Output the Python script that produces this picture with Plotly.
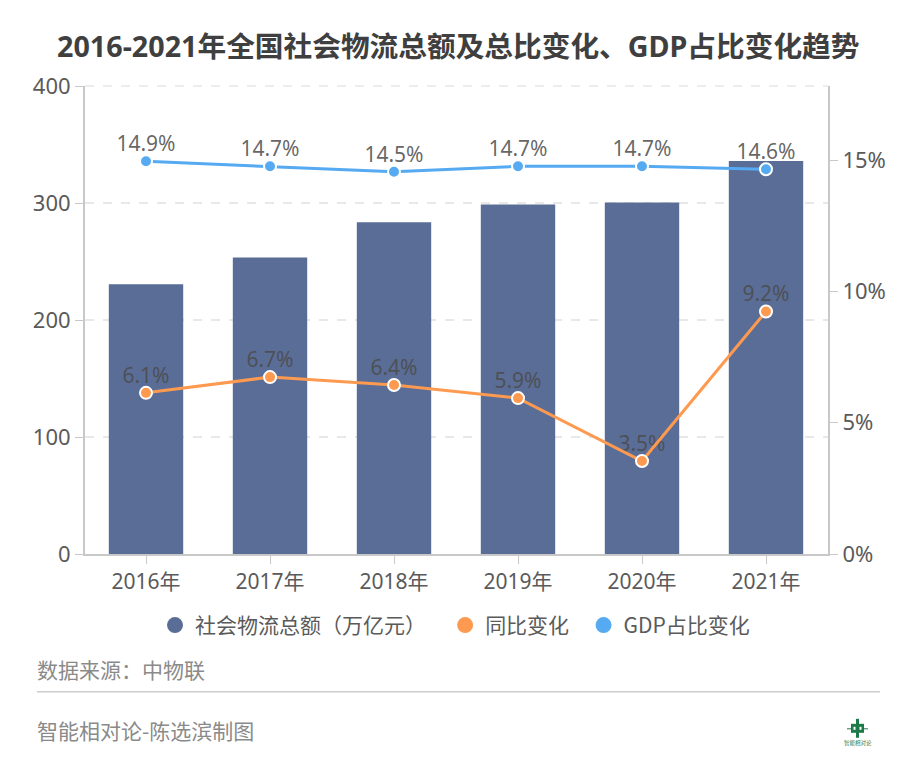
#Target : recreate the 2016-2021 logistics total chart with a secondary % axis

import plotly.graph_objects as go

# 1 - Data (line heights as drawn, labels as printed)

years = ["2016年", "2017年", "2018年", "2019年", "2020年", "2021年"]
logistics_total = [230.5, 253.5, 283.5, 298.8, 300.5, 336]
yoy_change = [6.14, 6.74, 6.44, 5.94, 3.54, 9.24]
gdp_share = [14.96, 14.77, 14.56, 14.77, 14.77, 14.66]
yoy_labels = ["6.1%", "6.7%", "6.4%", "5.9%", "3.5%", "9.2%"]
gdp_labels = ["14.9%", "14.7%", "14.5%", "14.7%", "14.7%", "14.6%"]
left_ticks = [0, 100, 200, 300, 400]
right_ticks = [0, 5, 10, 15]
right_tick_labels = ["0%", "5%", "10%", "15%"]

FONT = "Noto Sans, Noto Sans CJK SC, sans-serif"
CJK = "Noto Sans CJK SC, Noto Sans, sans-serif"
BAR = "#5a6d96"
ORANGE = "#fd9a50"
BLUE = "#55aaf2"
GREEN = "#1f7a4a"
TEXT = "#5a5a5a"
GRID = "#e8e8e8"

W, H = 917, 779
L, R, T, B = 85, 828, 85.5, 554

# page pixels to paper coordinates, for the text and lines outside the plot
def px(x):
    return (x - L) / (R - L)

def py(y):
    return (B - y) / (B - T)


# 2 - Traces

fig = go.Figure()

fig.add_trace(go.Bar(x=years, y=logistics_total, marker_color=BAR, width=0.6,
                     marker_line_width=0, showlegend=False))

for values, labels, color in [(yoy_change, yoy_labels, ORANGE), (gdp_share, gdp_labels, BLUE)]:
    # labels sit closer to the point than a visible marker would allow, so they get a small hidden marker
    fig.add_trace(go.Scatter(x=years, y=values, yaxis="y2", mode="markers+text",
                             text=labels, textposition="top center",
                             textfont=dict(size=21, color="rgba(75,75,75,0.85)", family=FONT),
                             marker=dict(size=6, opacity=0),
                             showlegend=False, cliponaxis=False))
    fig.add_trace(go.Scatter(x=years, y=values, yaxis="y2", mode="lines+markers",
                             line=dict(color=color, width=3),
                             marker=dict(size=12, color=color, line=dict(color="white", width=2)),
                             showlegend=False, cliponaxis=False))

# legend uses round swatches for all three series, so it gets its own empty traces
for name, color in [("社会物流总额（万亿元）\u00a0\u00a0\u00a0", BAR), ("同比变化\u00a0\u00a0", ORANGE), ("GDP占比变化", BLUE)]:
    fig.add_trace(go.Scatter(x=[None], y=[None], mode="markers", name=name,
                             marker=dict(size=18, color=color, symbol="circle")))


# 3 - Layout

axis_line = dict(showline=True, linecolor="#c8c8c8", linewidth=2, ticks="outside",
                 ticklen=8, tickcolor="#c8c8c8", tickwidth=1)
y_font = dict(size=22, color=TEXT, family=FONT)

fig.update_layout(
    width=W, height=H, autosize=False,
    margin=dict(l=L, r=W - R, t=T, b=H - B, pad=0),
    paper_bgcolor="white", plot_bgcolor="white",
    font=dict(family=FONT, color=TEXT),
    bargap=0.4,
    xaxis=dict(**axis_line, type="category", showgrid=False, range=[-0.492, 5.5],
               tickfont=dict(size=21, color=TEXT, family=FONT)),
    yaxis=dict(**axis_line, range=[0, 400], tickvals=left_ticks, tickfont=y_font,
               showgrid=True, gridcolor=GRID, griddash="dash", gridwidth=1.5, zeroline=False),
    yaxis2=dict(**axis_line, overlaying="y", side="right", range=[0, 17.83], tickfont=y_font,
                tickvals=right_ticks, ticktext=right_tick_labels, showgrid=False, zeroline=False),
    legend=dict(orientation="h", x=px(155), y=py(605), xanchor="left", yanchor="top",
                font=dict(size=21, color=TEXT, family=CJK), itemsizing="trace",
                bgcolor="rgba(0,0,0,0)"),
    annotations=[
        dict(text="<b>2016-2021年全国社会物流总额及总比变化、GDP占比变化趋势</b>",
             x=px(458), y=py(45), xref="paper", yref="paper", xanchor="center", yanchor="middle",
             showarrow=False, font=dict(size=28.7, color="#3f3f3f", family=FONT)),
        dict(text="数据来源：中物联", x=px(35), y=py(669.5), xref="paper", yref="paper",
             xanchor="left", yanchor="middle", showarrow=False,
             font=dict(size=21, color="#8a8a8a", family=CJK)),
        dict(text="智能相对论-陈选滨制图", x=px(35), y=py(730.5), xref="paper", yref="paper",
             xanchor="left", yanchor="middle", showarrow=False,
             font=dict(size=21, color="#8a8a8a", family=CJK)),
        dict(text="智能相对论", x=px(857.5), y=py(743), xref="paper", yref="paper",
             xanchor="center", yanchor="middle", showarrow=False,
             font=dict(size=5.5, color=GREEN, family=CJK)),
    ],
    shapes=[
        # plotly skips the grid line at the very top of the range
        dict(type="line", xref="paper", yref="paper", x0=0, x1=1, y0=1, y1=1, layer="below",
             line=dict(color=GRID, width=1.5, dash="dash")),
        # rule above the credit line
        dict(type="line", xref="paper", yref="paper", x0=px(37), x1=px(880), y0=py(692), y1=py(692),
             line=dict(color="#cccccc", width=1.5)),
        # small robot logo
        dict(type="rect", xref="paper", yref="paper", x0=px(851), x1=px(864), y0=py(724), y1=py(733),
             fillcolor=GREEN, line_width=0),
        dict(type="rect", xref="paper", yref="paper", x0=px(856), x1=px(859), y0=py(719), y1=py(738),
             fillcolor=GREEN, line_width=0),
        dict(type="line", xref="paper", yref="paper", x0=px(847), x1=px(868), y0=py(729), y1=py(729),
             line=dict(color=GREEN, width=1)),
        dict(type="rect", xref="paper", yref="paper", x0=px(853.5), x1=px(855.5), y0=py(727), y1=py(730),
             fillcolor="white", line_width=0),
        dict(type="rect", xref="paper", yref="paper", x0=px(859.5), x1=px(861.5), y0=py(727), y1=py(730),
             fillcolor="white", line_width=0),
    ],
)

# page body margin would otherwise push the whole figure 8px in
fig.write_html("out.html", post_script="document.body.style.margin='0';",
               config=dict(displayModeBar=False))
